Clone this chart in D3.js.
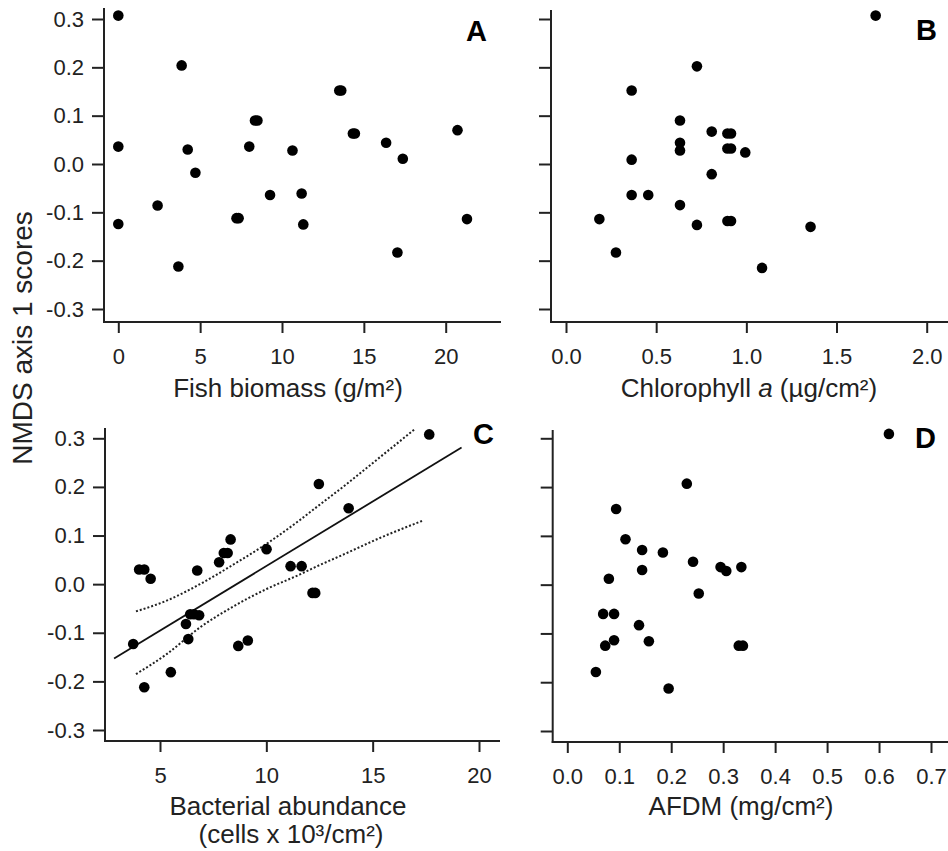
<!DOCTYPE html>
<html lang="en">
  <head>
    <meta charset="utf-8">
    <title>NMDS axis 1 scores vs environment</title>
    <style>
      body { margin: 0; background: #fff; }
      svg { display: block; font-family: "Liberation Sans", Arial, sans-serif; }
      .axis line, .axis path { stroke: #222; stroke-width: 2; }
      .tick text { fill: #222; font-size: 22px; }
      .title { fill: #222; font-size: 26px; }
      .letter { fill: #000; font-size: 29px; font-weight: bold; }
    </style>
  </head>
  <body>
    <svg width="948" height="851"></svg>
    <script src="https://cdn.jsdelivr.net/npm/d3@7"></script>
    <script>

    // shared y axis
    var yTicks = [0.3, 0.2, 0.1, 0.0, -0.1, -0.2, -0.3];
    var yTickLabels = ["0.3", "0.2", "0.1", "0.0", "-0.1", "-0.2", "-0.3"];

    // A: fish biomass (g/m2)
    var fishX = [0, 0, 0, 2.4, 3.87, 3.67, 4.24, 4.71, 7.22, 7.35, 8.0, 8.35, 8.5, 9.27, 10.64, 11.2, 11.3, 13.5, 13.62, 14.33, 14.45, 16.36, 17.38, 17.05, 20.72, 21.3];
    var fishY = [0.307, 0.036, -0.124, -0.086, 0.204, -0.212, 0.030, -0.018, -0.112, -0.112, 0.036, 0.090, 0.090, -0.064, 0.028, -0.061, -0.125, 0.152, 0.152, 0.063, 0.063, 0.044, 0.011, -0.183, 0.070, -0.114];
    var fishTicks = [0, 5, 10, 15, 20];

    // B: chlorophyll a (ug/cm2)
    var chlX = [1.717, 0.726, 0.364, 0.632, 0.808, 0.895, 0.915, 0.632, 0.632, 0.895, 0.915, 0.994, 0.364, 0.808, 0.364, 0.456, 0.632, 0.185, 0.726, 0.895, 0.915, 1.356, 0.277, 1.087];
    var chlY = [0.307, 0.202, 0.152, 0.090, 0.067, 0.063, 0.063, 0.044, 0.028, 0.032, 0.032, 0.024, 0.009, -0.021, -0.064, -0.064, -0.085, -0.114, -0.126, -0.118, -0.118, -0.130, -0.183, -0.215];
    var chlTicks = [0.0, 0.5, 1.0, 1.5, 2.0];
    var chlTickLabels = ["0.0", "0.5", "1.0", "1.5", "2.0"];

    // C: bacterial abundance (cells x 10^3/cm2)
    var bacX = [17.66, 12.47, 13.87, 8.32, 10.01, 8.0, 8.18, 7.78, 4.02, 4.26, 6.75, 4.56, 11.14, 11.66, 12.17, 12.3, 6.42, 6.6, 6.84, 6.22, 6.33, 3.74, 8.68, 9.13, 5.51, 4.26];
    var bacY = [0.308, 0.206, 0.156, 0.092, 0.072, 0.064, 0.064, 0.045, 0.030, 0.030, 0.028, 0.011, 0.037, 0.037, -0.018, -0.018, -0.062, -0.062, -0.064, -0.082, -0.113, -0.123, -0.127, -0.116, -0.181, -0.212];
    var bacTicks = [5, 10, 15, 20];
    // fitted line ends and 95% band
    var fitX = [2.84, 19.18];
    var fitY = [-0.153, 0.281];
    var upperX = [3.87, 5.31, 6.88, 8.44, 10.01, 11.58, 12.2, 13.78, 15.34, 16.99];
    var upperY = [-0.056, -0.034, 0.000, 0.040, 0.083, 0.132, 0.153, 0.206, 0.261, 0.319];
    var lowerX = [3.87, 5.31, 6.88, 8.44, 10.01, 11.58, 12.2, 13.78, 15.34, 17.38];
    var lowerY = [-0.185, -0.144, -0.089, -0.046, -0.010, 0.020, 0.033, 0.064, 0.095, 0.131];

    // D: AFDM (mg/cm2)
    var afdmX = [0.619, 0.230, 0.094, 0.112, 0.144, 0.184, 0.242, 0.295, 0.306, 0.335, 0.144, 0.080, 0.253, 0.069, 0.090, 0.138, 0.073, 0.090, 0.157, 0.330, 0.338, 0.055, 0.195];
    var afdmY = [0.309, 0.207, 0.155, 0.093, 0.071, 0.066, 0.047, 0.036, 0.028, 0.036, 0.030, 0.012, -0.018, -0.060, -0.060, -0.083, -0.125, -0.114, -0.116, -0.125, -0.125, -0.179, -0.213];
    var afdmTicks = [0.0, 0.1, 0.2, 0.3, 0.4, 0.5, 0.6, 0.7];
    var afdmTickLabels = ["0.0", "0.1", "0.2", "0.3", "0.4", "0.5", "0.6", "0.7"];

    var svg = d3.select("svg");

    var panels = [
      { letter: "A", xs: fishX, ys: fishY, ticks: fishTicks, labels: fishTicks.map(String),
        x0: 104, x1: 501, y0: 8, y1: 322, xd: [0, 20], xr: [118.3, 445.7], yr: [19, 309],
        lx: 487, ly: 41 },
      { letter: "B", xs: chlX, ys: chlY, ticks: chlTicks, labels: chlTickLabels,
        x0: 551, x1: 948, y0: 10, y1: 322, xd: [0, 2], xr: [566, 926.7], yr: [19, 309],
        lx: 937, ly: 40, noYLabels: true },
      { letter: "C", xs: bacX, ys: bacY, ticks: bacTicks, labels: bacTicks.map(String),
        x0: 105, x1: 500, y0: 428, y1: 741, xd: [5, 20], xr: [160, 479], yr: [438.3, 730],
        lx: 494, ly: 444, fit: true },
      { letter: "D", xs: afdmX, ys: afdmY, ticks: afdmTicks, labels: afdmTickLabels,
        x0: 552.7, x1: 948, y0: 430, y1: 742, xd: [0, 0.7], xr: [567.3, 931], yr: [438.3, 731],
        lx: 936, ly: 448, noYLabels: true }
    ];

    panels.forEach(function(p) {
      var x = d3.scaleLinear().domain(p.xd).range(p.xr);
      var y = d3.scaleLinear().domain([0.3, -0.3]).range(p.yr);
      var g = svg.append("g");

      // axes
      var xa = g.append("g").attr("class", "axis")
          .attr("transform", "translate(0," + p.y1 + ")")
          .call(d3.axisBottom(x).tickValues(p.ticks).tickSize(11).tickPadding(10)
            .tickFormat(function(d, i) { return p.labels[i]; }));
      xa.select(".domain").remove();
      xa.selectAll(".tick text").attr("dy", "0.95em");

      var ya = g.append("g").attr("class", "axis")
          .attr("transform", "translate(" + p.x0 + ",0)")
          .call(d3.axisLeft(y).tickValues(yTicks).tickSize(12).tickPadding(8)
            .tickFormat(function(d, i) { return p.noYLabels ? "" : yTickLabels[i]; }));
      ya.select(".domain").remove();

      g.append("line")
          .attr("x1", p.x0).attr("x2", p.x0).attr("y1", p.y0).attr("y2", p.y1 + 1)
          .attr("stroke", "#222").attr("stroke-width", 2);
      g.append("line")
          .attr("x1", p.x0 - 1).attr("x2", p.x1).attr("y1", p.y1).attr("y2", p.y1)
          .attr("stroke", "#222").attr("stroke-width", 2);

      if (p.fit) {
        var line = d3.line()
            .x(function(d) { return x(d[0]); })
            .y(function(d) { return y(d[1]); });
        g.append("path").datum(d3.zip(fitX, fitY))
            .attr("d", line).attr("fill", "none").attr("stroke", "#111").attr("stroke-width", 1.8);
        var smooth = d3.line()
            .x(function(d) { return x(d[0]); })
            .y(function(d) { return y(d[1]); })
            .curve(d3.curveMonotoneX);
        [[upperX, upperY], [lowerX, lowerY]].forEach(function(b) {
          g.append("path").datum(d3.zip(b[0], b[1]))
              .attr("d", smooth).attr("fill", "none").attr("stroke", "#222")
              .attr("stroke-width", 2).attr("stroke-dasharray", "2,2");
        });
      }

      g.selectAll("circle").data(d3.zip(p.xs, p.ys))
        .enter().append("circle")
          .attr("cx", function(d) { return x(d[0]); })
          .attr("cy", function(d) { return y(d[1]); })
          .attr("r", 5.3)
          .attr("fill", "#000");

      g.append("text").attr("class", "letter")
          .attr("x", p.lx).attr("y", p.ly)
          .attr("text-anchor", "end")
          .text(p.letter);
    });

    // axis titles
    svg.append("text").attr("class", "title")
        .attr("transform", "translate(32,338) rotate(-90)")
        .attr("text-anchor", "middle").style("font-size", "28px")
        .text("NMDS axis 1 scores");

    svg.append("text").attr("class", "title")
        .attr("x", 288).attr("y", 397).attr("text-anchor", "middle")
        .text("Fish biomass (g/m²)");

    var chl = svg.append("text").attr("class", "title")
        .attr("x", 749).attr("y", 397).attr("text-anchor", "middle");
    chl.append("tspan").text("Chlorophyll ");
    chl.append("tspan").style("font-style", "italic").text("a");
    chl.append("tspan").text(" (µg/cm²)");

    svg.append("text").attr("class", "title")
        .attr("x", 288).attr("y", 815).attr("text-anchor", "middle")
        .text("Bacterial abundance");
    svg.append("text").attr("class", "title")
        .attr("x", 291).attr("y", 843).attr("text-anchor", "middle")
        .text("(cells x 10³/cm²)");

    svg.append("text").attr("class", "title")
        .attr("x", 741).attr("y", 815).attr("text-anchor", "middle")
        .text("AFDM (mg/cm²)");

    </script>
  </body>
</html>
